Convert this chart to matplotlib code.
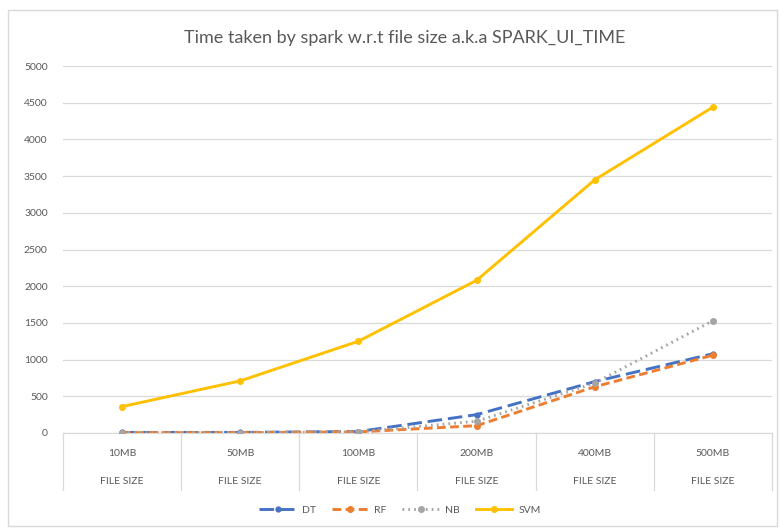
import matplotlib
matplotlib.use("Agg")
import matplotlib.pyplot as plt
import matplotlib.transforms as mtransforms
from matplotlib.patches import Rectangle

categories = ["10MB", "50MB", "100MB", "200MB", "400MB", "500MB"]
sub_label = "FILE SIZE"
dt = [8, 8, 20, 250, 700, 1080]
rf = [5, 5, 15, 100, 630, 1060]
nb = [5, 5, 15, 160, 680, 1530]
svm = [360, 710, 1250, 2080, 3450, 4440]
yticks = [0, 500, 1000, 1500, 2000, 2500, 3000, 3500, 4000, 4500, 5000]
title = "Time taken by spark w.r.t file size a.k.a SPARK_UI_TIME"

plt.rcParams['font.family'] = ['Lato', 'DejaVu Sans']
txt = '#595959'
grid = '#D9D9D9'

fig = plt.figure(figsize=(7.8, 5.29), dpi=100)
ax = fig.add_axes([63/780, 96/529, 709/780, 367/529])

x = list(range(len(categories)))
lw = 2.1
ax.plot(x, dt, color='#4472C4', lw=lw, linestyle=(0, (5, 2)), marker='o', ms=3.5,
        label='DT', zorder=3)
ax.plot(x, rf, color='#ED7D31', lw=lw, linestyle=(0, (3, 1.5)), marker='o', ms=4,
        label='RF', zorder=4)
ax.plot(x, nb, color='#A5A5A5', lw=lw, linestyle=(0, (0.6, 1.4)), marker='o', ms=4,
        label='NB', zorder=5)
ax.plot(x, svm, color='#FFC000', lw=lw, linestyle='-', marker='o', ms=4,
        label='SVM', zorder=6)

ax.set_xlim(-0.5, len(categories) - 0.5)
ax.set_ylim(0, 5000)
ax.set_yticks(yticks)
ax.set_yticklabels([str(v) for v in yticks])
ax.tick_params(axis='y', length=0, labelsize=7.5, labelcolor=txt, pad=11)
ax.set_xticks([])
ax.yaxis.grid(True, color=grid, lw=0.9)
ax.set_axisbelow(True)
for s in ['top', 'right', 'left']:
    ax.spines[s].set_visible(False)
ax.spines['bottom'].set_color(grid)
ax.spines['bottom'].set_linewidth(0.9)

trans = mtransforms.blended_transform_factory(ax.transData, ax.transAxes)
for i in range(len(categories) + 1):
    ax.plot([i - 0.5, i - 0.5], [0, -57/367], transform=trans, color=grid,
            lw=0.9, clip_on=False)
for i, c in enumerate(categories):
    ax.text(i, -20/367, c, transform=trans, ha='center', va='center',
            fontsize=7.5, color=txt)
    ax.text(i, -49/367, sub_label, transform=trans, ha='center', va='center',
            fontsize=7.5, color=txt)

fig.text(405/780, 1 - 38/529, title, ha='center', va='center', fontsize=13, color=txt)

fig.legend(loc='center', bbox_to_anchor=(400/780, 1 - 510/529), ncol=4,
           frameon=False, fontsize=7.5, labelcolor=txt, handlelength=3.5,
           numpoints=1, columnspacing=1.5, handletextpad=0.6)

fig.patches.append(Rectangle((8/780, 3/529), 769/780, 516/529, transform=fig.transFigure,
                             fill=False, edgecolor=grid, lw=1))

fig.savefig('out.png', dpi=100, facecolor='white')
